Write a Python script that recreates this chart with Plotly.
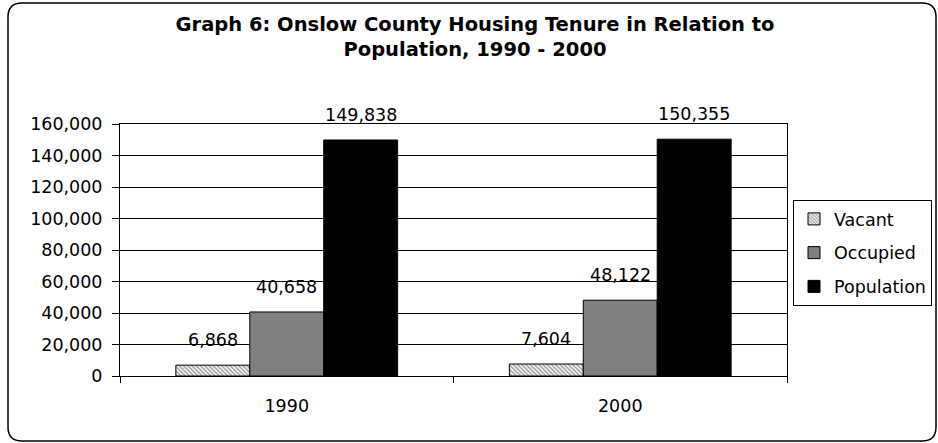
import plotly.graph_objects as go

# Housing tenure and population, Onslow County
years = ["1990", "2000"]
vacant = [6868, 7604]
occupied = [40658, 48122]
population = [149838, 150355]
series_names = ["Vacant", "Occupied", "Population"]

FONT = "DejaVu Sans"
FIG_W, FIG_H = 938, 443
M_L, M_R, M_T, M_B = 120, 151, 124, 67
PLOT_W = FIG_W - M_L - M_R
PLOT_H = FIG_H - M_T - M_B
BARGAP = 0.335

fig = go.Figure()

fig.add_trace(go.Bar(
    name=series_names[0], x=years, y=vacant, legendgroup="v",
    marker=dict(color="white",
                line=dict(color="black", width=1),
                pattern=dict(shape="\\", fgcolor="#333333", bgcolor="white",
                             size=3, solidity=0.5)),
))
fig.add_trace(go.Bar(
    name=series_names[1], x=years, y=occupied, legendgroup="o",
    marker=dict(color="#808080", line=dict(color="black", width=1)),
))
fig.add_trace(go.Bar(
    name=series_names[2], x=years, y=population, legendgroup="p",
    marker=dict(color="#000000", line=dict(color="black", width=1)),
))

# value labels above each bar (x given as category index)
bar_w = PLOT_W / len(years) * (1 - BARGAP) / 3
annotations = []
for i, vals in enumerate([vacant, occupied, population]):
    for k, v in enumerate(vals):
        annotations.append(dict(
            x=k, y=v, xref="x", yref="y", text=f"{v:,}", showarrow=False,
            xshift=(i - 1) * bar_w, yshift=13, yanchor="bottom",
            font=dict(family=FONT, size=17.5, color="black"),
        ))


def px_x(p):
    return (p - M_L) / PLOT_W


def px_y(p):
    return (M_T + PLOT_H - p) / PLOT_H


# rounded chart frame
x0, x1, y0, y1, r = 8, 936, 3, 441, 14
path = (
    f"M {px_x(x0 + r)},{px_y(y0)} L {px_x(x1 - r)},{px_y(y0)} "
    f"Q {px_x(x1)},{px_y(y0)} {px_x(x1)},{px_y(y0 + r)} "
    f"L {px_x(x1)},{px_y(y1 - r)} "
    f"Q {px_x(x1)},{px_y(y1)} {px_x(x1 - r)},{px_y(y1)} "
    f"L {px_x(x0 + r)},{px_y(y1)} "
    f"Q {px_x(x0)},{px_y(y1)} {px_x(x0)},{px_y(y1 - r)} "
    f"L {px_x(x0)},{px_y(y0 + r)} "
    f"Q {px_x(x0)},{px_y(y0)} {px_x(x0 + r)},{px_y(y0)} Z"
)

fig.update_layout(
    width=FIG_W, height=FIG_H,
    margin=dict(l=M_L, r=M_R, t=M_T, b=M_B, autoexpand=False),
    paper_bgcolor="white", plot_bgcolor="white",
    barmode="group", bargap=BARGAP, bargroupgap=0,
    font=dict(family=FONT, size=17.5, color="black"),
    title=dict(
        text="<b>Graph 6: Onslow County Housing Tenure in Relation to<br>Population, 1990 - 2000</b>",
        x=475 / FIG_W, xanchor="center", y=1 - 31 / FIG_H, yanchor="middle",
        font=dict(family=FONT, size=19.5, color="black"),
    ),
    xaxis=dict(
        type="category", categoryorder="array", categoryarray=years,
        range=[-0.5, len(years) - 0.5], autorange=False,
        showline=True, linecolor="black", linewidth=1,
        mirror=True, ticks="outside", tickson="boundaries", ticklen=6,
        tickcolor="black", ticklabelstandoff=14, showgrid=False,
        tickangle=0,
        tickfont=dict(family=FONT, size=17.5, color="black"),
    ),
    yaxis=dict(
        range=[0, 160000], dtick=20000, tickformat=",", showline=True,
        linecolor="black", linewidth=1, mirror=True, ticks="outside",
        ticklen=7, tickcolor="black", showgrid=True, gridcolor="black",
        gridwidth=1, zeroline=False, ticklabelstandoff=6,
        tickfont=dict(family=FONT, size=17.5, color="black"),
    ),
    legend=dict(
        x=px_x(793), y=px_y(200), xanchor="left", yanchor="top",
        bordercolor="black", borderwidth=1, bgcolor="white",
        font=dict(family=FONT, size=17.5, color="black"),
        itemwidth=30, tracegroupgap=8, traceorder="grouped",
    ),
    annotations=annotations,
    shapes=[dict(type="path", path=path, xref="paper", yref="paper",
                 line=dict(color="black", width=1.5), layer="below")],
)

fig.write_html("out.html")
